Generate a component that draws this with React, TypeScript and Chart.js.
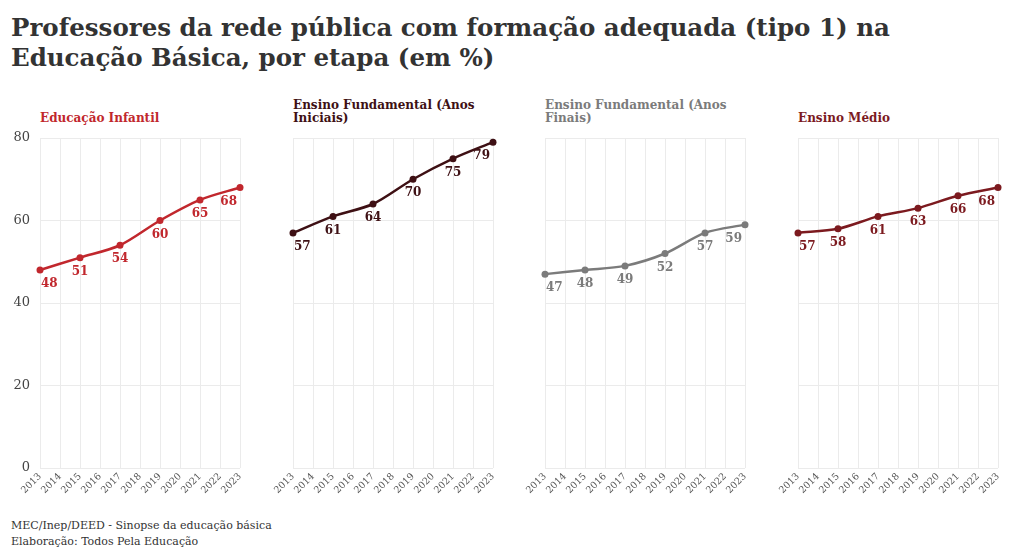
import React, { useEffect, useRef } from "react";
import { Chart, registerables } from "chart.js";

Chart.register(...registerables);

const years = [2013, 2015, 2017, 2019, 2021, 2023];
const infantil = [48, 51, 54, 60, 65, 68];
const fundIniciais = [57, 61, 64, 70, 75, 79];
const fundFinais = [47, 48, 49, 52, 57, 59];
const medio = [57, 58, 61, 63, 66, 68];
const yTicks = [0, 20, 40, 60, 80];
const xMin = 2013;
const xMax = 2023;

const titleLines = [
  "Professores da rede pública com formação adequada (tipo 1) na",
  "Educação Básica, por etapa (em %)",
];
const sourceLines = [
  "MEC/Inep/DEED - Sinopse da educação básica",
  "Elaboração: Todos Pela Educação",
];

const FONT = '"DejaVu Serif", serif';

const panels = [
  { title: ["Educação Infantil"], values: infantil, color: "#c1272d", showY: true },
  { title: ["Ensino Fundamental (Anos", "Iniciais)"], values: fundIniciais, color: "#3e1014", showY: false },
  { title: ["Ensino Fundamental (Anos", "Finais)"], values: fundFinais, color: "#7b7b7b", showY: false },
  { title: ["Ensino Médio"], values: medio, color: "#7c1a1f", showY: false },
];

const valueLabels = {
  id: "valueLabels",
  afterDatasetsDraw(chart: any) {
    const ctx = chart.ctx;
    const meta = chart.getDatasetMeta(0);
    const ds = chart.data.datasets[0];
    const { left, right } = chart.chartArea;
    ctx.save();
    ctx.font = `bold 12px ${FONT}`;
    ctx.fillStyle = ds.borderColor;
    ctx.textAlign = "center";
    ctx.textBaseline = "middle";
    meta.data.forEach((pt: any, i: number) => {
      const t = String(ds.data[i].y);
      const w = ctx.measureText(t).width;
      let x = pt.x;
      x = Math.max(left + w / 2 + 1, Math.min(right - w / 2 - 3, x));
      ctx.fillText(t, x, pt.y + 14);
    });
    ctx.restore();
  },
};

function Panel({ values, color, showY }: { values: number[]; color: string; showY: boolean }) {
  const ref = useRef<HTMLCanvasElement>(null);
  useEffect(() => {
    if (!ref.current) return;
    const chart = new Chart(ref.current, {
      type: "line",
      data: {
        datasets: [
          {
            data: years.map((yr, i) => ({ x: yr, y: values[i] })),
            borderColor: color,
            backgroundColor: color,
            borderWidth: 2.5,
            pointRadius: 3.5,
            pointBackgroundColor: color,
            pointBorderWidth: 0,
            tension: 0.3,
            clip: false,
          },
        ],
      },
      options: {
        responsive: false,
        animation: false,
        events: [],
        layout: { padding: { top: 10, right: 10, left: 0, bottom: 0 } },
        plugins: { legend: { display: false }, tooltip: { enabled: false }, title: { display: false } },
        scales: {
          x: {
            type: "linear",
            min: xMin,
            max: xMax,
            afterFit: (s: any) => {
              s.height = 41;
              s.paddingLeft = 0;
              s.paddingRight = 0;
            },
            afterBuildTicks: (s: any) => {
              const t: any[] = [];
              for (let v = xMin; v <= xMax; v++) t.push({ value: v });
              s.ticks = t;
            },
            border: { display: false },
            grid: { color: "#ebebeb", lineWidth: 1, drawTicks: false },
            ticks: {
              autoSkip: false,
              maxRotation: 45,
              minRotation: 45,
              padding: 3,
              color: "#555",
              font: { family: FONT, size: 9.5 },
              callback: (v: any) => String(v),
            },
          },
          y: {
            min: 0,
            max: 80,
            afterFit: (s: any) => {
              s.width = 40;
              s.paddingTop = 0;
              s.paddingBottom = 0;
            },
            afterBuildTicks: (s: any) => {
              s.ticks = yTicks.map((v) => ({ value: v }));
            },
            border: { display: false },
            grid: { color: "#ebebeb", lineWidth: 1, drawTicks: false },
            ticks: {
              display: showY,
              padding: 10,
              color: "#444",
              font: { family: FONT, size: 13 },
            },
          },
        },
      },
      plugins: [valueLabels],
    } as any);
    return () => chart.destroy();
  }, [values, color, showY]);
  return <canvas ref={ref} width={250} height={381} style={{ display: "block", width: 250, height: 381 }} />;
}

export default function App() {
  const lefts = [0, 253, 505, 758];
  return (
    <div
      style={{
        position: "absolute",
        left: 0,
        top: 0,
        width: 1020,
        height: 559,
        background: "#fff",
        fontFamily: FONT,
        overflow: "hidden",
      }}
    >
      <div
        style={{
          position: "absolute",
          left: 11,
          top: 13,
          fontSize: 24.5,
          fontWeight: "bold",
          lineHeight: "30px",
          color: "#333",
          whiteSpace: "nowrap",
        }}
      >
        {titleLines.map((l, i) => (
          <div key={i}>{l}</div>
        ))}
      </div>
      {panels.map((p, i) => (
        <React.Fragment key={i}>
          <div
            style={{
              position: "absolute",
              left: lefts[i] + 40,
              bottom: 559 - 125,
              fontSize: 12,
              fontWeight: "bold",
              lineHeight: "13px",
              color: p.color,
              whiteSpace: "nowrap",
            }}
          >
            {p.title.map((l, j) => (
              <div key={j}>{l}</div>
            ))}
          </div>
          <div style={{ position: "absolute", left: lefts[i], top: 128 }}>
            <Panel values={p.values} color={p.color} showY={p.showY} />
          </div>
        </React.Fragment>
      ))}
      <div
        style={{
          position: "absolute",
          left: 11,
          top: 518,
          fontSize: 11,
          lineHeight: "16px",
          color: "#333",
          whiteSpace: "nowrap",
        }}
      >
        {sourceLines.map((l, i) => (
          <div key={i}>{l}</div>
        ))}
      </div>
    </div>
  );
}
